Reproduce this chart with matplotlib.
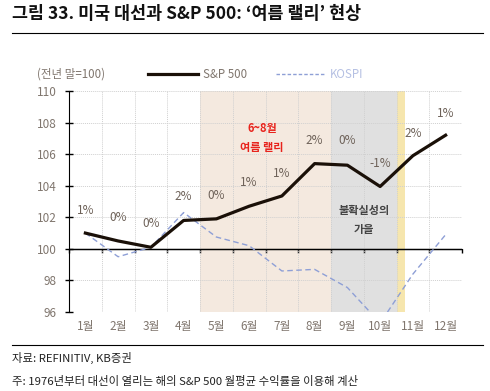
import matplotlib
matplotlib.use("Agg")
import matplotlib.pyplot as plt
from matplotlib.lines import Line2D

plt.rcParams['font.family'] = ['Noto Sans CJK KR', 'DejaVu Sans']

months = ['1월', '2월', '3월', '4월', '5월', '6월', '7월', '8월', '9월', '10월', '11월', '12월']
sp500 = [101.0, 100.5, 100.1, 101.8, 101.9, 102.7, 103.35, 105.4, 105.3, 103.95, 105.9, 107.2]
kospi = [101.0, 99.5, 100.1, 102.3, 100.75, 100.2, 98.6, 98.7, 97.55, 95.3, 98.4, 100.9]
returns = ['1%', '0%', '0%', '2%', '0%', '1%', '1%', '2%', '0%', '-1%', '2%', '1%']
label_y = [102.4, 102.0, 101.6, 103.3, 103.4, 104.2, 104.75, 106.85, 106.85, 105.4, 107.3, 108.6]
y_ticks = [96, 98, 100, 102, 104, 106, 108, 110]

TXT = '#6e6259'
x = list(range(len(months)))

fig = plt.figure(figsize=(4.9, 3.91), dpi=100)
ax = fig.add_axes([69 / 490, 1 - 312 / 391, (462 - 69) / 490, (312 - 91) / 391])
ax.set_xlim(-0.5, 11.5)
ax.set_ylim(96, 110)

# shaded periods
ax.axvspan(3.5, 7.5, color='#f4e9df', lw=0, zorder=0)
ax.axvspan(7.5, 9.5, color='#e0e0e0', lw=0, zorder=0)
ax.axvspan(9.5, 9.75, color='#f6e6ae', lw=0, zorder=0)

# dotted grid
for b in [i + 0.5 for i in range(-1, 12)]:
    ax.axvline(b, color='#d0d0d0', lw=0.7, ls=(0, (1, 1)), zorder=0.5)
for yv in y_ticks:
    ax.axhline(yv, color='#d0d0d0', lw=0.7, ls=(0, (1, 1)), zorder=0.5)
ax.axhline(100, color='black', lw=1.0, zorder=1)

ax.plot(x, kospi, color='#8e9fd6', lw=1.0, ls=(0, (4, 2.5)), zorder=2)
ax.plot(x, sp500, color='#1a1008', lw=2.3, zorder=3)

for xi, lab, ly in zip(x, returns, label_y):
    ax.text(xi, ly, lab, ha='center', va='center', fontsize=8.5, color=TXT)

ax.text(5.4, 107.0, '6~8월\n여름 랠리', ha='center', va='center', fontsize=8,
        color='#e8231c', fontweight='bold', linespacing=1.6)
ax.text(8.5, 101.8, '불확실성의\n가을', ha='center', va='center', fontsize=8,
        color='#444444', fontweight='bold', linespacing=1.6)

for s in ['top', 'right', 'bottom']:
    ax.spines[s].set_visible(False)
ax.spines['left'].set_color('black')
ax.set_yticks(y_ticks)
ax.tick_params(axis='y', direction='inout', length=6, width=1, labelsize=8.5,
               labelcolor='#80766e', pad=6)
ax.set_xticks(x)
ax.set_xticklabels(months)
ax.tick_params(axis='x', length=0, labelsize=8.5, labelcolor='#80766e', pad=6)

sec = ax.secondary_xaxis(4 / 14)
sec.set_xticks([i + 0.5 for i in range(-1, 12)])
sec.set_xticklabels([])
sec.tick_params(direction='out', length=3, width=1, color='black')
sec.spines['bottom'].set_color('black')

# header, legend, footer
fig.text(12 / 490, 1 - 14 / 391, "그림 33. 미국 대선과 S&P 500: ‘여름 랠리’ 현상",
         fontsize=12.5, fontweight='bold', va='center', color='#111111')
fig.add_artist(Line2D([12 / 490, 483 / 490], [1 - 33 / 391] * 2, color='black', lw=0.8))
fig.text(37 / 490, 1 - 74 / 391, '(전년 말=100)', fontsize=8.3, color='#80766e', va='center')
fig.add_artist(Line2D([148 / 490, 198 / 490], [1 - 74 / 391] * 2, color='#1a1008', lw=2.3))
fig.text(203 / 490, 1 - 74 / 391, 'S&P 500', fontsize=8.3, color='#80766e', va='center')
fig.add_artist(Line2D([276 / 490, 324 / 490], [1 - 74 / 391] * 2, color='#8e9fd6', lw=1.0,
                      ls=(0, (2.5, 1.5))))
fig.text(330 / 490, 1 - 74 / 391, 'KOSPI', fontsize=8.3, color='#b5c0e3', va='center')
fig.add_artist(Line2D([12 / 490, 483 / 490], [1 - 345 / 391] * 2, color='black', lw=0.8))
fig.text(12 / 490, 1 - 358 / 391, '자료: REFINITIV, KB증권', fontsize=8.2, color='#222222', va='center')
fig.text(12 / 490, 1 - 381 / 391, '주: 1976년부터 대선이 열리는 해의 S&P 500 월평균 수익률을 이용해 계산',
         fontsize=8.2, color='#222222', va='center')

fig.savefig('out.png', dpi=100)
